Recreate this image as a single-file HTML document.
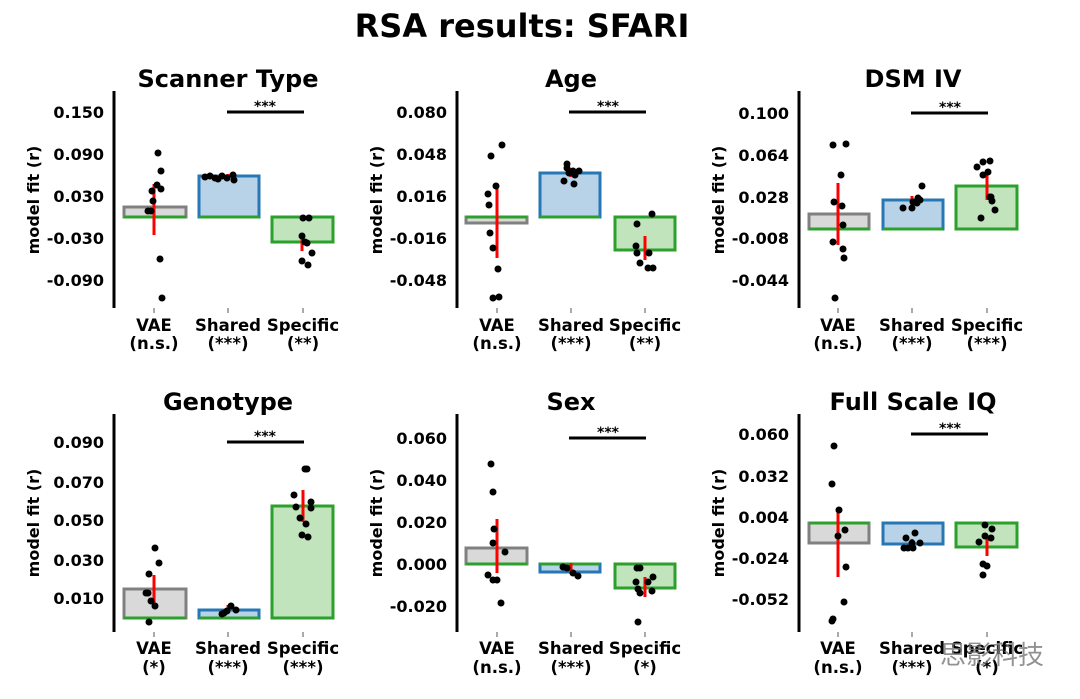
<!DOCTYPE html>
<html><head><meta charset="utf-8"><style>
html,body{margin:0;padding:0;background:#fff;}
svg{display:block;font-family:"DejaVu Sans","Liberation Sans",sans-serif;font-weight:bold;}
.t{font-size:16px;text-anchor:end;}
.x{font-size:16.5px;text-anchor:middle;}
.ti{font-size:24px;text-anchor:middle;}
.yl{font-size:16px;text-anchor:middle;}
.st{font-size:14px;text-anchor:middle;}
.g{fill:#d9d9d9;stroke:#808080;stroke-width:3}
.b{fill:#b8d3e8;stroke:#2677b4;stroke-width:3}
.n{fill:#c1e4bd;stroke:#2ca02c;stroke-width:3}
.z{stroke:#2ca02c;stroke-width:3}
.e{stroke:#ff0000;stroke-width:3}
.ax{stroke:#000;stroke-width:3}
.tk{stroke:#555;stroke-width:1}
circle{fill:#000}
</style></head><body>
<svg width="1080" height="699" viewBox="0 0 1080 699" xmlns="http://www.w3.org/2000/svg">
<text x="522" y="37" font-size="32" text-anchor="middle">RSA results: SFARI</text>
<g style="--r:3.5">
<!-- Panel 1 -->
<text class="ti" x="228" y="87">Scanner Type</text>
<line class="ax" x1="114" y1="91" x2="114" y2="308"/>
<text class="t" x="104" y="118">0.150</text><text class="t" x="104" y="160">0.090</text><text class="t" x="104" y="202">0.030</text><text class="t" x="104" y="244">-0.030</text><text class="t" x="104" y="286">-0.090</text>
<text class="yl" transform="translate(39,200) rotate(-90)">model fit (r)</text>
<rect class="g" x="124" y="207" width="62" height="10"/><rect class="b" x="199" y="176" width="60" height="41"/><rect class="n" x="272" y="217" width="61" height="25"/>
<line class="z" x1="124" y1="217" x2="186" y2="217"/><line class="z" x1="199" y1="217" x2="259" y2="217"/>
<line class="e" x1="154" y1="184" x2="154" y2="235"/><line class="e" x1="228" y1="174" x2="228" y2="180"/><line class="e" x1="302" y1="233" x2="302" y2="251"/>
<circle cx="158" cy="153" r="3.5"/><circle cx="161" cy="171" r="3.5"/><circle cx="157" cy="185" r="3.5"/><circle cx="152" cy="191" r="3.5"/><circle cx="161" cy="189" r="3.5"/><circle cx="153" cy="201" r="3.5"/><circle cx="148" cy="211" r="3.5"/><circle cx="151" cy="211" r="3.5"/><circle cx="160" cy="259" r="3.5"/><circle cx="162" cy="298" r="3.5"/>
<circle cx="205" cy="177" r="3.5"/><circle cx="210" cy="176" r="3.5"/><circle cx="215" cy="178" r="3.5"/><circle cx="222" cy="176" r="3.5"/><circle cx="227" cy="178" r="3.5"/><circle cx="233" cy="175" r="3.5"/><circle cx="234" cy="180" r="3.5"/><circle cx="218" cy="179" r="3.5"/>
<circle cx="303" cy="218" r="3.5"/><circle cx="309" cy="218" r="3.5"/><circle cx="302" cy="236" r="3.5"/><circle cx="305" cy="242" r="3.5"/><circle cx="307" cy="243" r="3.5"/><circle cx="312" cy="253" r="3.5"/><circle cx="302" cy="261" r="3.5"/><circle cx="308" cy="265" r="3.5"/>
<line class="ax" x1="227" y1="112" x2="304" y2="112"/><text class="st" x="265" y="111">***</text>
<line class="tk" x1="154" y1="308" x2="154" y2="313"/><line class="tk" x1="228" y1="308" x2="228" y2="313"/><line class="tk" x1="303" y1="308" x2="303" y2="313"/>
<text class="x" x="154" y="331">VAE</text><text class="x" x="228" y="331">Shared</text><text class="x" x="303" y="331">Specific</text>
<text class="x" x="154" y="349">(n.s.)</text><text class="x" x="228" y="349">(***)</text><text class="x" x="303" y="349">(**)</text>

<!-- Panel 2 -->
<text class="ti" x="571" y="87">Age</text>
<line class="ax" x1="457" y1="91" x2="457" y2="308"/>
<text class="t" x="447" y="118">0.080</text><text class="t" x="447" y="160">0.048</text><text class="t" x="447" y="202">0.016</text><text class="t" x="447" y="244">-0.016</text><text class="t" x="447" y="286">-0.048</text>
<text class="yl" transform="translate(382,200) rotate(-90)">model fit (r)</text>
<rect class="g" x="466" y="217" width="61" height="6"/><rect class="b" x="540" y="173" width="60" height="44"/><rect class="n" x="615" y="217" width="60" height="33"/>
<line class="z" x1="466" y1="217" x2="527" y2="217"/><line class="z" x1="540" y1="217" x2="600" y2="217"/>
<line class="e" x1="497" y1="186" x2="497" y2="258"/><line class="e" x1="571" y1="168" x2="571" y2="177"/><line class="e" x1="645" y1="236" x2="645" y2="260"/>
<circle cx="502" cy="145" r="3.5"/><circle cx="491" cy="156" r="3.5"/><circle cx="496" cy="186" r="3.5"/><circle cx="488" cy="194" r="3.5"/><circle cx="489" cy="205" r="3.5"/><circle cx="490" cy="233" r="3.5"/><circle cx="493" cy="248" r="3.5"/><circle cx="498" cy="269" r="3.5"/><circle cx="493" cy="298" r="3.5"/><circle cx="499" cy="297" r="3.5"/>
<circle cx="567" cy="164" r="3.5"/><circle cx="567" cy="168" r="3.5"/><circle cx="573" cy="171" r="3.5"/><circle cx="579" cy="171" r="3.5"/><circle cx="575" cy="175" r="3.5"/><circle cx="564" cy="181" r="3.5"/><circle cx="574" cy="184" r="3.5"/><circle cx="569" cy="173" r="3.5"/>
<circle cx="652" cy="214" r="3.5"/><circle cx="637" cy="224" r="3.5"/><circle cx="636" cy="246" r="3.5"/><circle cx="637" cy="253" r="3.5"/><circle cx="649" cy="253" r="3.5"/><circle cx="640" cy="263" r="3.5"/><circle cx="648" cy="268" r="3.5"/><circle cx="653" cy="268" r="3.5"/>
<line class="ax" x1="569" y1="112" x2="646" y2="112"/><text class="st" x="608" y="111">***</text>
<line class="tk" x1="497" y1="308" x2="497" y2="313"/><line class="tk" x1="571" y1="308" x2="571" y2="313"/><line class="tk" x1="645" y1="308" x2="645" y2="313"/>
<text class="x" x="497" y="331">VAE</text><text class="x" x="571" y="331">Shared</text><text class="x" x="645" y="331">Specific</text>
<text class="x" x="497" y="349">(n.s.)</text><text class="x" x="571" y="349">(***)</text><text class="x" x="645" y="349">(**)</text>

<!-- Panel 3 -->
<text class="ti" x="913" y="87">DSM IV</text>
<line class="ax" x1="799" y1="91" x2="799" y2="308"/>
<text class="t" x="789" y="119">0.100</text><text class="t" x="789" y="161">0.064</text><text class="t" x="789" y="203">0.028</text><text class="t" x="789" y="244">-0.008</text><text class="t" x="789" y="286">-0.044</text>
<text class="yl" transform="translate(724,200) rotate(-90)">model fit (r)</text>
<rect class="g" x="809" y="214" width="60" height="15"/><rect class="b" x="883" y="200" width="60" height="29"/><rect class="n" x="956" y="186" width="61" height="43"/>
<line class="z" x1="809" y1="229" x2="869" y2="229"/><line class="z" x1="883" y1="229" x2="943" y2="229"/>
<line class="e" x1="838" y1="183" x2="838" y2="245"/><line class="e" x1="912" y1="196" x2="912" y2="206"/><line class="e" x1="987" y1="173" x2="987" y2="200"/>
<circle cx="833" cy="145" r="3.5"/><circle cx="846" cy="144" r="3.5"/><circle cx="841" cy="175" r="3.5"/><circle cx="834" cy="202" r="3.5"/><circle cx="842" cy="206" r="3.5"/><circle cx="843" cy="225" r="3.5"/><circle cx="833" cy="242" r="3.5"/><circle cx="843" cy="249" r="3.5"/><circle cx="844" cy="258" r="3.5"/><circle cx="835" cy="298" r="3.5"/>
<circle cx="922" cy="186" r="3.5"/><circle cx="903" cy="208" r="3.5"/><circle cx="912" cy="208" r="3.5"/><circle cx="918" cy="198" r="3.5"/><circle cx="920" cy="200" r="3.5"/><circle cx="917" cy="203" r="3.5"/><circle cx="913" cy="202" r="3.5"/>
<circle cx="977" cy="167" r="3.5"/><circle cx="983" cy="162" r="3.5"/><circle cx="990" cy="161" r="3.5"/><circle cx="988" cy="172" r="3.5"/><circle cx="983" cy="175" r="3.5"/><circle cx="990" cy="197" r="3.5"/><circle cx="992" cy="201" r="3.5"/><circle cx="995" cy="210" r="3.5"/><circle cx="981" cy="218" r="3.5"/><circle cx="991" cy="197" r="3.5"/>
<line class="ax" x1="911" y1="113" x2="988" y2="113"/><text class="st" x="950" y="112">***</text>
<line class="tk" x1="838" y1="308" x2="838" y2="313"/><line class="tk" x1="912" y1="308" x2="912" y2="313"/><line class="tk" x1="987" y1="308" x2="987" y2="313"/>
<text class="x" x="838" y="331">VAE</text><text class="x" x="912" y="331">Shared</text><text class="x" x="987" y="331">Specific</text>
<text class="x" x="838" y="349">(n.s.)</text><text class="x" x="912" y="349">(***)</text><text class="x" x="987" y="349">(***)</text>

<!-- Panel 4 -->
<text class="ti" x="228" y="410">Genotype</text>
<line class="ax" x1="114" y1="414" x2="114" y2="632"/>
<text class="t" x="104" y="448">0.090</text><text class="t" x="104" y="488">0.070</text><text class="t" x="104" y="526">0.050</text><text class="t" x="104" y="566">0.030</text><text class="t" x="104" y="604">0.010</text>
<text class="yl" transform="translate(39,523) rotate(-90)">model fit (r)</text>
<rect class="g" x="124" y="589" width="62" height="29"/><rect class="b" x="199" y="610" width="60" height="8"/><rect class="n" x="272" y="506" width="61" height="112"/>
<line class="z" x1="124" y1="618" x2="186" y2="618"/><line class="z" x1="199" y1="618" x2="259" y2="618"/>
<line class="e" x1="154" y1="575" x2="154" y2="603"/><line class="e" x1="228" y1="605" x2="228" y2="612"/><line class="e" x1="303" y1="490" x2="303" y2="522"/>
<circle cx="155" cy="548" r="3.5"/><circle cx="159" cy="563" r="3.5"/><circle cx="149" cy="574" r="3.5"/><circle cx="146" cy="593" r="3.5"/><circle cx="151" cy="601" r="3.5"/><circle cx="155" cy="606" r="3.5"/><circle cx="149" cy="622" r="3.5"/><circle cx="148" cy="593" r="3.5"/>
<circle cx="222" cy="614" r="3.5"/><circle cx="227" cy="611" r="3.5"/><circle cx="231" cy="606" r="3.5"/><circle cx="236" cy="610" r="3.5"/><circle cx="224" cy="613" r="3.5"/>
<circle cx="305" cy="469" r="3.5"/><circle cx="307" cy="469" r="3.5"/><circle cx="294" cy="495" r="3.5"/><circle cx="311" cy="502" r="3.5"/><circle cx="296" cy="507" r="3.5"/><circle cx="311" cy="508" r="3.5"/><circle cx="300" cy="518" r="3.5"/><circle cx="306" cy="524" r="3.5"/><circle cx="302" cy="535" r="3.5"/><circle cx="308" cy="537" r="3.5"/>
<line class="ax" x1="227" y1="442" x2="304" y2="442"/><text class="st" x="265" y="441">***</text>
<line class="tk" x1="154" y1="632" x2="154" y2="637"/><line class="tk" x1="228" y1="632" x2="228" y2="637"/><line class="tk" x1="303" y1="632" x2="303" y2="637"/>
<text class="x" x="154" y="654">VAE</text><text class="x" x="228" y="654">Shared</text><text class="x" x="303" y="654">Specific</text>
<text class="x" x="154" y="673">(*)</text><text class="x" x="228" y="673">(***)</text><text class="x" x="303" y="673">(***)</text>

<!-- Panel 5 -->
<text class="ti" x="571" y="410">Sex</text>
<line class="ax" x1="457" y1="414" x2="457" y2="632"/>
<text class="t" x="447" y="444">0.060</text><text class="t" x="447" y="486">0.040</text><text class="t" x="447" y="528">0.020</text><text class="t" x="447" y="570">0.000</text><text class="t" x="447" y="612">-0.020</text>
<text class="yl" transform="translate(382,523) rotate(-90)">model fit (r)</text>
<rect class="g" x="466" y="548" width="61" height="16"/><rect class="b" x="540" y="564" width="60" height="8"/><rect class="n" x="615" y="564" width="60" height="24"/>
<line class="z" x1="466" y1="564" x2="527" y2="564"/><line class="z" x1="540" y1="564" x2="600" y2="564"/>
<line class="e" x1="497" y1="519" x2="497" y2="573"/><line class="e" x1="571" y1="563" x2="571" y2="574"/><line class="e" x1="645" y1="577" x2="645" y2="597"/>
<circle cx="491" cy="464" r="3.5"/><circle cx="493" cy="492" r="3.5"/><circle cx="494" cy="529" r="3.5"/><circle cx="493" cy="543" r="3.5"/><circle cx="505" cy="552" r="3.5"/><circle cx="488" cy="575" r="3.5"/><circle cx="493" cy="580" r="3.5"/><circle cx="497" cy="580" r="3.5"/><circle cx="501" cy="603" r="3.5"/>
<circle cx="567" cy="568" r="3.5"/><circle cx="573" cy="573" r="3.5"/><circle cx="578" cy="576" r="3.5"/><circle cx="563" cy="567" r="3.5"/>
<circle cx="637" cy="568" r="3.5"/><circle cx="640" cy="568" r="3.5"/><circle cx="653" cy="577" r="3.5"/><circle cx="636" cy="582" r="3.5"/><circle cx="648" cy="582" r="3.5"/><circle cx="638" cy="589" r="3.5"/><circle cx="640" cy="593" r="3.5"/><circle cx="652" cy="591" r="3.5"/><circle cx="638" cy="622" r="3.5"/>
<line class="ax" x1="569" y1="438" x2="646" y2="438"/><text class="st" x="608" y="437">***</text>
<line class="tk" x1="497" y1="632" x2="497" y2="637"/><line class="tk" x1="571" y1="632" x2="571" y2="637"/><line class="tk" x1="645" y1="632" x2="645" y2="637"/>
<text class="x" x="497" y="654">VAE</text><text class="x" x="571" y="654">Shared</text><text class="x" x="645" y="654">Specific</text>
<text class="x" x="497" y="673">(n.s.)</text><text class="x" x="571" y="673">(***)</text><text class="x" x="645" y="673">(*)</text>

<!-- Panel 6 -->
<text class="ti" x="913" y="410">Full Scale IQ</text>
<line class="ax" x1="799" y1="414" x2="799" y2="632"/>
<text class="t" x="789" y="440">0.060</text><text class="t" x="789" y="482">0.032</text><text class="t" x="789" y="523">0.004</text><text class="t" x="789" y="564">-0.024</text><text class="t" x="789" y="605">-0.052</text>
<text class="yl" transform="translate(724,523) rotate(-90)">model fit (r)</text>
<rect class="g" x="809" y="523" width="60" height="20"/><rect class="b" x="883" y="523" width="60" height="21"/><rect class="n" x="956" y="523" width="61" height="24"/>
<line class="z" x1="809" y1="523" x2="869" y2="523"/>
<line class="e" x1="838" y1="508" x2="838" y2="577"/><line class="e" x1="912" y1="539" x2="912" y2="548"/><line class="e" x1="987" y1="536" x2="987" y2="556"/>
<circle cx="834" cy="446" r="3.5"/><circle cx="832" cy="484" r="3.5"/><circle cx="839" cy="510" r="3.5"/><circle cx="838" cy="536" r="3.5"/><circle cx="845" cy="530" r="3.5"/><circle cx="846" cy="567" r="3.5"/><circle cx="844" cy="602" r="3.5"/><circle cx="833" cy="619" r="3.5"/><circle cx="832" cy="621" r="3.5"/>
<circle cx="904" cy="548" r="3.5"/><circle cx="908" cy="548" r="3.5"/><circle cx="913" cy="548" r="3.5"/><circle cx="906" cy="538" r="3.5"/><circle cx="915" cy="533" r="3.5"/><circle cx="920" cy="543" r="3.5"/><circle cx="912" cy="543" r="3.5"/>
<circle cx="985" cy="525" r="3.5"/><circle cx="992" cy="529" r="3.5"/><circle cx="985" cy="536" r="3.5"/><circle cx="991" cy="538" r="3.5"/><circle cx="979" cy="542" r="3.5"/><circle cx="983" cy="564" r="3.5"/><circle cx="987" cy="566" r="3.5"/><circle cx="983" cy="575" r="3.5"/>
<line class="ax" x1="911" y1="434" x2="988" y2="434"/><text class="st" x="950" y="433">***</text>
<line class="tk" x1="838" y1="632" x2="838" y2="637"/><line class="tk" x1="912" y1="632" x2="912" y2="637"/><line class="tk" x1="987" y1="632" x2="987" y2="637"/>
<text class="x" x="838" y="654">VAE</text><text class="x" x="912" y="654">Shared</text><text class="x" x="987" y="654">Specific</text>
<text class="x" x="838" y="673">(n.s.)</text><text class="x" x="912" y="673">(***)</text><text class="x" x="987" y="673">(*)</text>
<text x="940" y="664" font-size="26" font-weight="normal" fill="#777" opacity="0.8" style="font-family:'Liberation Sans','Noto Sans CJK SC',sans-serif">思影科技</text>
</g>
</svg>
</body></html>
